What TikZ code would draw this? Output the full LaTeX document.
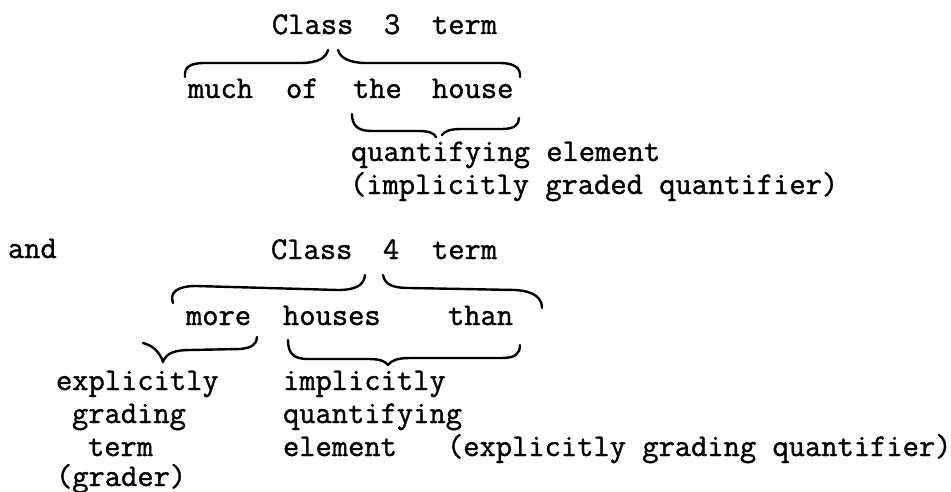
\documentclass[tikz,border=0pt]{standalone}
\usepackage{fontspec}
\setmonofont{Latin Modern Mono}[FakeBold=1.2]
\tikzset{
  tw/.style={font=\fontsize{31.6}{34}\selectfont\ttfamily\bfseries, anchor=base west, inner sep=0pt, outer sep=0pt},
  bracestroke/.style={line width=2.4pt, line cap=round, line join=round}
}
\begin{document}
\begin{tikzpicture}[x=1pt,y=-1pt]
\useasboundingbox[fill=white] (0,0) rectangle (951,492);
% ---- Class 3 term ----
\node[tw] (c3class) at (272,34) {Class};
\node[tw] (c3num)   at (384,34) {3};
\node[tw] (c3term)  at (432,34) {term};
\node[tw] (much)  at (188,98) {much};
\node[tw] (of)    at (286,98) {of};
\node[tw] (the)   at (353,98) {the};
\node[tw] (house) at (432,98) {house};
\node[tw] (qe)  at (351,161) {quantifying element};
\node[tw] (igq) at (350,194) {(implicitly graded quantifier)};
% braces (class 3)
\draw[bracestroke] (185,77) .. controls (184,67) and (190,63) .. (205,63)
  -- (300,63) .. controls (318,63) and (326,58) .. (328,50);
\draw[bracestroke] (338,50) .. controls (340,58) and (350,63) .. (366,63)
  -- (500,63) .. controls (514,63) and (521,68) .. (520,77);
\draw[bracestroke] (352,114) .. controls (352,126) and (358,131) .. (372,131)
  -- (418,131) .. controls (429,131) and (434,133) .. (436,137);
\draw[bracestroke] (442,135) .. controls (445,131) and (450,129) .. (462,129)
  -- (502,129) .. controls (514,129) and (519,125) .. (519,118);
% ---- Class 4 term ----
\node[tw] (and) at (8,258) {and};
\node[tw] (c4class) at (271,259) {Class};
\node[tw] (c4num)   at (383,259) {4};
\node[tw] (c4term)  at (432,259) {term};
\node[tw] (more)   at (186,325) {more};
\node[tw] (houses) at (283,325) {houses};
\node[tw] (than)   at (448,325) {than};
% braces (class 4)
\draw[bracestroke] (173,303) .. controls (169,292) and (178,286) .. (196,286)
  -- (338,290) .. controls (356,290) and (364,285) .. (365,275);
\draw[bracestroke] (383,275) .. controls (385,285) and (393,288) .. (410,288)
  -- (515,290) .. controls (534,291) and (542,298) .. (542,308);
\draw[bracestroke] (143,343) .. controls (152,345) and (160,352) .. (163,362)
  .. controls (166,353) and (175,350) .. (190,350)
  -- (240,349) .. controls (252,348) and (257,344) .. (257,337);
\draw[bracestroke] (288,340) .. controls (288,353) and (293,359) .. (308,359)
  -- (368,359) .. controls (380,359) and (385,361) .. (388,365)
  .. controls (391,361) and (396,358) .. (410,358)
  -- (502,358) .. controls (515,358) and (520,354) .. (520,345);
% bottom labels
\node[tw] (expl)    at (56,390) {explicitly};
\node[tw] (grading) at (72,423) {grading};
\node[tw] (gterm)   at (88,456) {term};
\node[tw] (grader)  at (56,486) {(grader)};
\node[tw] (impl)  at (283,390) {implicitly};
\node[tw] (quant) at (283,423) {quantifying};
\node[tw] (elem)  at (283,456) {element};
\node[tw] (egq)   at (447,456) {(explicitly grading quantifier)};
\end{tikzpicture}
\end{document}
